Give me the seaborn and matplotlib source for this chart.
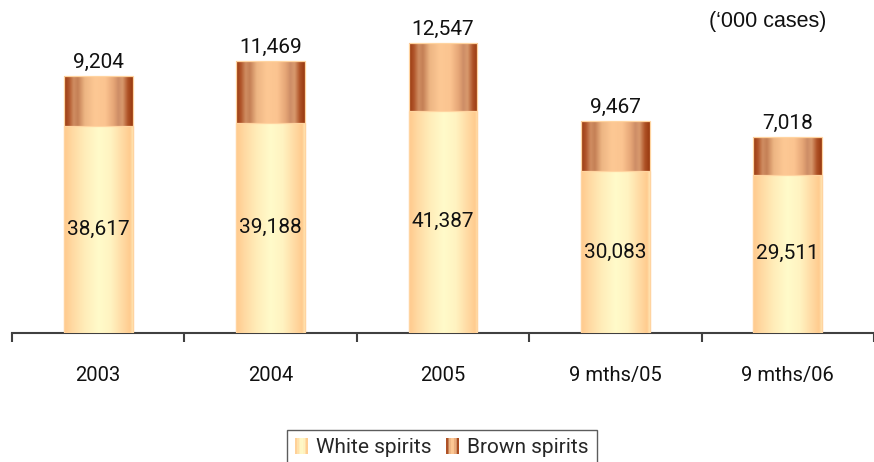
import numpy as np
import pandas as pd
import matplotlib
matplotlib.use("Agg")
import matplotlib.pyplot as plt
from matplotlib.colors import LinearSegmentedColormap
from matplotlib.legend_handler import HandlerBase
from matplotlib.patches import Rectangle, Patch
import seaborn as sns

# Sales volume by period ('000 cases)
periods = ["2003", "2004", "2005", "9 mths/05", "9 mths/06"]
white_spirits = [38617, 39188, 41387, 30083, 29511]
brown_spirits = [9204, 11469, 12547, 9467, 7018]
series_names = ["White spirits", "Brown spirits"]

df = pd.DataFrame({"period": periods, "white": white_spirits, "brown": brown_spirits})
df["total"] = df["white"] + df["brown"]

# Horizontal "cylinder" shading for each series
white_stops = [(0.0, "#FFC98C"), (0.12, "#FFD9A2"), (0.3, "#FFEDB9"),
               (0.5, "#FFFBCA"), (0.68, "#FFF3C1"), (0.88, "#FFD69E"),
               (0.96, "#FFCB8E"), (1.0, "#FFE6B4")]
brown_stops = [(0.0, "#9A3A10"), (0.07, "#B0552A"), (0.14, "#D08E62"),
               (0.2, "#C47F55"), (0.3, "#EDB583"), (0.45, "#FDC894"),
               (0.6, "#FBC490"), (0.72, "#E6A677"), (0.79, "#CD8D66"),
               (0.85, "#D99A6E"), (0.93, "#AE5125"), (1.0, "#98380F")]
white_cmap = LinearSegmentedColormap.from_list("white_sp", white_stops)
brown_cmap = LinearSegmentedColormap.from_list("brown_sp", brown_stops)

sns.set_style("white")
plt.rcParams["font.family"] = ["Roboto", "DejaVu Sans"]

fig = plt.figure(figsize=(8.74, 4.62), dpi=100)
ax = fig.add_axes([12 / 874, 129 / 462, 862 / 874, 322.2 / 462])

# Totals first (brown top segment), white spirits drawn over the lower part
sns.barplot(data=df, x="period", y="total", color="#C0784A", width=0.4,
            errorbar=None, ax=ax, zorder=2)
n = len(periods)
brown_patches = list(ax.patches[:n])
sns.barplot(data=df, x="period", y="white", color="#FFF0C0", width=0.4,
            errorbar=None, ax=ax, zorder=3)
white_patches = list(ax.patches[n:2 * n])

grad = np.linspace(0, 1, 256).reshape(1, -1)


def shade(patch, cmap, z):
    x0, y0 = patch.get_x(), patch.get_y()
    w, h = patch.get_width(), patch.get_height()
    im = ax.imshow(grad, cmap=cmap, extent=(x0, x0 + w, y0, y0 + h),
                   aspect="auto", interpolation="bicubic", zorder=z - 0.1)
    im.set_clip_path(patch)
    patch.set_facecolor("none")
    patch.set_edgecolor("#FFD4A0")
    patch.set_linewidth(0.9)


for p in brown_patches:
    shade(p, brown_cmap, 2)
for p in white_patches:
    shade(p, white_cmap, 3)

ax.set_xlim(-0.5, n - 0.5)
ax.set_ylim(0, 60000)

# Value labels
for i in range(n):
    ax.annotate(f"{df['brown'][i]:,}", (i, df["total"][i]), xytext=(0, 3),
                textcoords="offset points", ha="center", va="bottom",
                fontsize=15, color="#111111")
    ax.text(i, df["white"][i] / 2, f"{df['white'][i]:,}", ha="center",
            va="center", fontsize=15, color="#111111", zorder=5)

# Axes styling: only the baseline with category separators
for s in ["left", "right", "top"]:
    ax.spines[s].set_visible(False)
ax.spines["bottom"].set_color("#404040")
ax.spines["bottom"].set_linewidth(1.5)
ax.set_yticks([])
ax.set_xlabel("")
ax.set_ylabel("")
ax.set_xticks(range(n))
ax.set_xticklabels(periods, fontsize=14.5, color="#111111")
ax.tick_params(axis="x", which="major", length=0, pad=24)
ax.set_xticks(np.arange(-0.5, n, 1.0), minor=True)
ax.tick_params(axis="x", which="minor", bottom=True, length=6.5, width=1.5,
               color="#404040", direction="out")

fig.text(826 / 874, 1 - 22 / 462, "(\u2018000 cases)", ha="right", va="center",
         fontsize=15.5, family="Liberation Sans", color="#111111")


class StripeHandler(HandlerBase):
    def __init__(self, cmap, **kw):
        super().__init__(**kw)
        self.cmap = cmap

    def create_artists(self, legend, orig_handle, xdescent, ydescent,
                       width, height, fontsize, trans):
        k = 8
        arts = []
        for j in range(k):
            r = Rectangle((-xdescent + j * width / k, -ydescent), width / k,
                          height, facecolor=self.cmap((j + 0.5) / k),
                          edgecolor="none", transform=trans)
            arts.append(r)
        return arts


h_white = Patch(label=series_names[0])
h_brown = Patch(label=series_names[1])
leg = fig.legend([h_white, h_brown], series_names, loc="lower center",
                 bbox_to_anchor=(442 / 874, -0.008), ncol=2, fontsize=15,
                 frameon=True, fancybox=False, edgecolor="#333333",
                 handlelength=0.6, handleheight=0.75, handletextpad=0.4,
                 columnspacing=0.7, borderpad=0.4, borderaxespad=0,
                 handler_map={h_white: StripeHandler(white_cmap),
                              h_brown: StripeHandler(brown_cmap)})
leg.get_frame().set_linewidth(1.0)

fig.savefig("out.png", dpi=100)
